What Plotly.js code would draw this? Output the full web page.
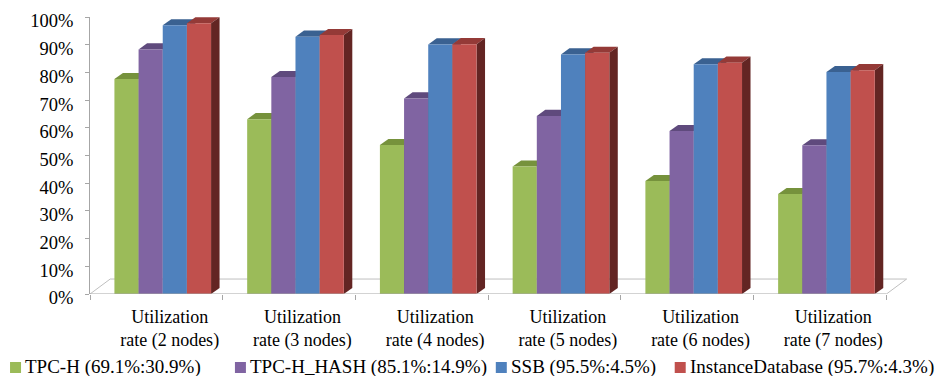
<!DOCTYPE html>
<html>
<head>
<meta charset="utf-8">
<script src="https://cdn.plot.ly/plotly-3.0.1.min.js"></script>
<style>
  html, body { margin: 0; padding: 0; background: #ffffff; }
  #chart { width: 948px; height: 376px; }
</style>
</head>
<body>
<div id="chart"></div>
<script>
// Utilization rate per cluster size, one series per workload
const categories = ['Utilization<br>rate (2 nodes)', 'Utilization<br>rate (3 nodes)', 'Utilization<br>rate (4 nodes)',
                    'Utilization<br>rate (5 nodes)', 'Utilization<br>rate (6 nodes)', 'Utilization<br>rate (7 nodes)'];
const seriesNames = ['TPC-H (69.1%:30.9%)', 'TPC-H_HASH (85.1%:14.9%)', 'SSB (95.5%:4.5%)', 'InstanceDatabase (95.7%:4.3%)'];
const tpch      = [77.6, 63.1, 53.8, 46.0, 40.8, 36.1];
const tpchHash  = [88.3, 78.3, 70.6, 64.3, 58.8, 53.7];
const ssb       = [97.0, 92.9, 90.1, 86.5, 82.9, 80.1];
const instDb    = [97.7, 93.5, 90.2, 87.1, 83.5, 80.8];
const yTicks    = [0, 10, 20, 30, 40, 50, 60, 70, 80, 90, 100];

const seriesValues = [tpch, tpchHash, ssb, instDb];
const frontColors = ['#9BBB59', '#8064A2', '#4F81BD', '#C0504D'];
const topColors   = ['#76923C', '#5F4A7D', '#3A6191', '#943A37'];
const sideColors  = ['#4F6228', '#3F3151', '#244061', '#632523'];

const SERIF = '"Liberation Serif", "Times New Roman", Times, serif';

// Geometry of the pseudo-3D columns (category units / percent units)
const barW = 0.182;          // width of one column
const firstOff = 0.275;      // centre of first column inside a category slot
const depthX = 0.064, depthY = 2.2;     // column depth
const floorDX = 0.152, floorDY = 5.4;   // floor depth

const traces = seriesValues.map((vals, k) => ({
  type: 'bar',
  name: seriesNames[k],
  x: vals.map((v, i) => i + firstOff + k * barW),
  y: vals,
  width: barW,
  marker: { color: frontColors[k], line: { width: 0 } },
  showlegend: false,
  hoverinfo: 'y'
}));

const shapes = [];
// floor of the plot
shapes.push({
  type: 'path', xref: 'x', yref: 'y', layer: 'below',
  path: `M0,0 L${floorDX},${floorDY} L${categories.length + floorDX},${floorDY} L${categories.length},0`,
  line: { color: '#BFBFBF', width: 1 }, fillcolor: 'rgba(0,0,0,0)'
});
shapes.push({
  type: 'line', xref: 'x', yref: 'y', layer: 'above',
  x0: 0, y0: 0, x1: categories.length, y1: 0,
  line: { color: '#A6A6A6', width: 1 }
});
// top and side faces of every column, drawn beneath the front faces
seriesValues.forEach((vals, k) => {
  vals.forEach((v, i) => {
    const x0 = i + firstOff + k * barW - barW / 2;
    const x1 = x0 + barW;
    shapes.push({
      type: 'path', xref: 'x', yref: 'y', layer: 'below',
      path: `M${x0},${v} L${x1},${v} L${x1 + depthX},${v + depthY} L${x0 + depthX},${v + depthY} Z`,
      fillcolor: topColors[k], line: { width: 0 }
    });
    shapes.push({
      type: 'path', xref: 'x', yref: 'y', layer: 'below',
      path: `M${x1},0 L${x1 + depthX},${depthY} L${x1 + depthX},${v + depthY} L${x1},${v} Z`,
      fillcolor: sideColors[k], line: { width: 0 }
    });
  });
});

// legend row: colour keys and series names
const legendKeyX = [10, 235, 496, 675];
const annotations = [];
seriesNames.forEach((name, k) => {
  shapes.push({
    type: 'rect', xref: 'paper', yref: 'paper',
    x0: (legendKeyX[k] - 90) / 823.4, x1: (legendKeyX[k] + 11 - 90) / 823.4,
    y0: -(362 - 294) / 277, y1: -(373 - 294) / 277,
    fillcolor: frontColors[k], line: { width: 0 }
  });
  annotations.push({
    xref: 'paper', yref: 'paper',
    x: (legendKeyX[k] + 13 - 90) / 823.4, y: -(367 - 294) / 277,
    xanchor: 'left', yanchor: 'middle', showarrow: false,
    text: name, font: { family: SERIF, size: 19, color: '#000000' }
  });
});

const layout = {
  width: 948, height: 376,
  margin: { l: 90, r: 34.6, t: 17, b: 82 },
  paper_bgcolor: '#ffffff', plot_bgcolor: 'rgba(0,0,0,0)',
  barmode: 'overlay',
  font: { family: SERIF, size: 18, color: '#000000' },
  xaxis: {
    type: 'linear', range: [0, categories.length + 0.2],
    tickvals: categories.map((c, i) => i + 0.6), ticktext: categories,
    ticks: '', showline: false, showgrid: false, zeroline: false,
    tickfont: { family: SERIF, size: 18, color: '#000000' },
    ticklabelstandoff: 10,
    minor: { tickvals: categories.map((c, i) => i).concat([categories.length]),
             ticks: 'outside', ticklen: 5, tickcolor: '#A6A6A6', tickwidth: 1, showgrid: false },
    fixedrange: true
  },
  yaxis: {
    range: [0, 100], tickvals: yTicks, ticktext: yTicks.map(v => v + '%'),
    ticks: 'outside', ticklen: 4, tickcolor: '#A6A6A6',
    showline: true, linecolor: '#A6A6A6', linewidth: 1,
    showgrid: false, zeroline: false,
    ticklabelstandoff: 8, ticklabelshift: 4,
    tickfont: { family: SERIF, size: 18.5, color: '#000000' },
    fixedrange: true
  },
  shapes: shapes,
  annotations: annotations
};

Plotly.newPlot('chart', traces, layout, { displayModeBar: false, staticPlot: true });
</script>
</body>
</html>
